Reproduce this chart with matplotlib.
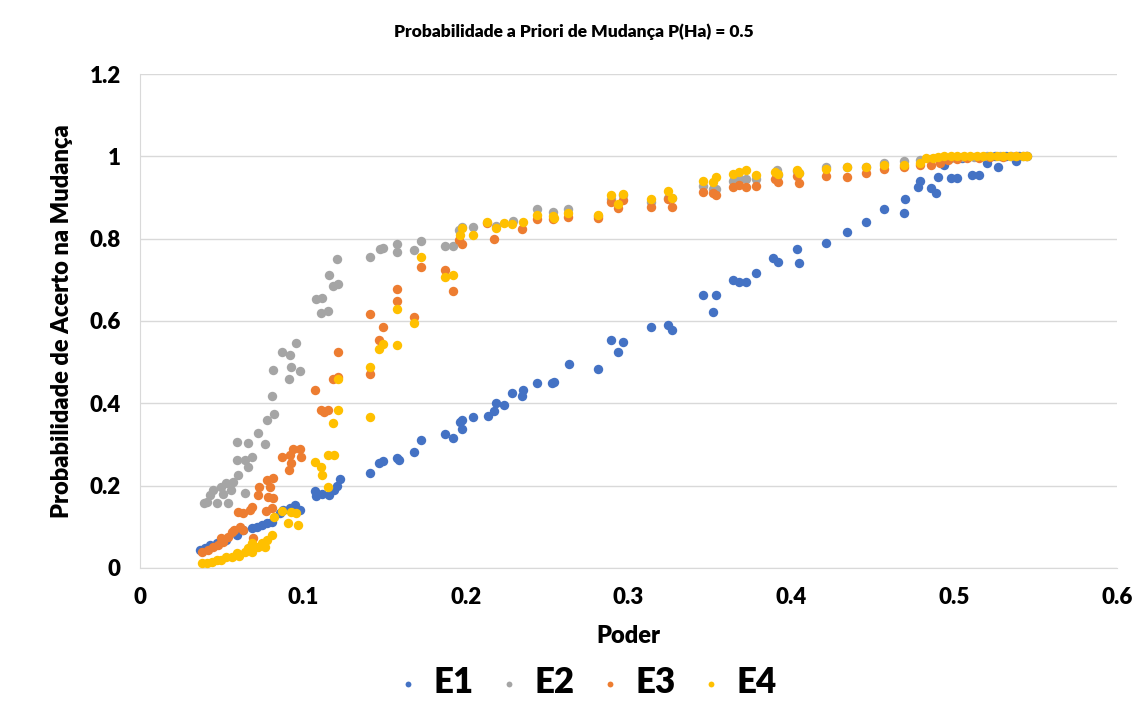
import matplotlib
matplotlib.use("Agg")
import matplotlib.pyplot as plt
from matplotlib.ticker import FuncFormatter

plt.rcParams['font.family'] = ['Lato', 'DejaVu Sans']
plt.rcParams['font.weight'] = 'heavy'
plt.rcParams['axes.labelweight'] = 'heavy'

# E1 (azul)
e1_x = [0.037, 0.040, 0.043, 0.047, 0.053, 0.0595, 0.063, 0.069, 0.072, 0.075, 0.078, 0.081,
        0.086, 0.088, 0.092, 0.095, 0.098, 0.1075, 0.108, 0.112, 0.116, 0.119, 0.121, 0.123,
        0.141, 0.147, 0.149, 0.158, 0.159, 0.168, 0.1725, 0.187, 0.192, 0.1966, 0.198, 0.198,
        0.2045, 0.2137, 0.2175, 0.2186, 0.2235, 0.2286, 0.2346, 0.2352, 0.244, 0.253, 0.254,
        0.2635, 0.281, 0.289, 0.2935, 0.2967, 0.314, 0.324, 0.327, 0.346, 0.352, 0.354, 0.364,
        0.368, 0.372, 0.378, 0.389, 0.392, 0.4035, 0.405, 0.421, 0.434, 0.446, 0.457, 0.469,
        0.470, 0.478, 0.479, 0.486, 0.489, 0.490, 0.494, 0.498, 0.502, 0.511, 0.515, 0.520,
        0.527, 0.538, 0.505, 0.525, 0.532, 0.540, 0.545]
e1_y = [0.044, 0.048, 0.056, 0.060, 0.068, 0.080, 0.092, 0.097, 0.100, 0.104, 0.110, 0.112,
        0.133, 0.140, 0.145, 0.153, 0.140, 0.187, 0.175, 0.180, 0.178, 0.190, 0.200, 0.215,
        0.231, 0.255, 0.260, 0.267, 0.263, 0.282, 0.311, 0.325, 0.315, 0.355, 0.360, 0.338,
        0.366, 0.370, 0.382, 0.400, 0.395, 0.425, 0.418, 0.432, 0.449, 0.449, 0.452,
        0.495, 0.483, 0.554, 0.525, 0.549, 0.585, 0.590, 0.578, 0.663, 0.622, 0.663, 0.700,
        0.695, 0.695, 0.716, 0.753, 0.743, 0.775, 0.740, 0.789, 0.816, 0.840, 0.872, 0.862,
        0.896, 0.925, 0.940, 0.923, 0.911, 0.950, 0.979, 0.947, 0.947, 0.954, 0.954, 0.983,
        0.974, 0.988, 0.995, 1.000, 1.000, 1.000, 1.000]

# E2 (cinza)
e2_x = [0.039, 0.041, 0.043, 0.045, 0.047, 0.050, 0.051, 0.053, 0.054, 0.056, 0.057, 0.060,
        0.0645, 0.066, 0.0595, 0.0645, 0.069, 0.0595, 0.066, 0.077, 0.0725, 0.078, 0.082,
        0.081, 0.0817, 0.087, 0.092, 0.093, 0.0915, 0.096, 0.098, 0.108, 0.112, 0.111, 0.1155,
        0.116, 0.1185, 0.1216, 0.121, 0.141, 0.1474, 0.149, 0.158, 0.158, 0.168, 0.1725,
        0.187, 0.192, 0.196, 0.198, 0.2045, 0.2186, 0.229, 0.244, 0.2535, 0.263, 0.281,
        0.289, 0.2967, 0.314, 0.324, 0.327, 0.346, 0.352, 0.354, 0.364, 0.368, 0.372, 0.378,
        0.391, 0.392, 0.4035, 0.405, 0.421, 0.434, 0.446, 0.457, 0.469, 0.479, 0.486, 0.492,
        0.498, 0.505, 0.512, 0.520, 0.528, 0.535, 0.542]
e2_y = [0.157, 0.160, 0.177, 0.190, 0.157, 0.197, 0.180, 0.206, 0.157, 0.190, 0.210, 0.225,
        0.182, 0.245, 0.262, 0.262, 0.270, 0.306, 0.304, 0.300, 0.328, 0.360, 0.375,
        0.418, 0.480, 0.524, 0.517, 0.488, 0.460, 0.546, 0.479, 0.653, 0.656, 0.619, 0.625,
        0.711, 0.685, 0.690, 0.750, 0.755, 0.775, 0.777, 0.787, 0.768, 0.772, 0.794,
        0.782, 0.782, 0.820, 0.829, 0.828, 0.831, 0.843, 0.872, 0.865, 0.872, 0.855,
        0.896, 0.905, 0.888, 0.900, 0.900, 0.928, 0.920, 0.920, 0.940, 0.945, 0.945, 0.945,
        0.966, 0.955, 0.964, 0.960, 0.975, 0.975, 0.975, 0.985, 0.988, 0.992, 0.994, 0.996,
        0.997, 0.998, 0.999, 1.000, 1.000, 1.000, 1.000]

# E3 (laranja)
e3_x = [0.038, 0.042, 0.045, 0.048, 0.051, 0.050, 0.054, 0.0565, 0.058, 0.0614, 0.063, 0.060,
        0.063, 0.0675, 0.069, 0.0695, 0.0786, 0.080, 0.081, 0.0725, 0.073, 0.078, 0.0774,
        0.0817, 0.0817, 0.087, 0.092, 0.094, 0.098, 0.093, 0.0915, 0.099, 0.1075, 0.111,
        0.113, 0.1155, 0.1185, 0.1216, 0.1216, 0.141, 0.149, 0.147, 0.141, 0.158, 0.158,
        0.168, 0.1725, 0.187, 0.192, 0.196, 0.198, 0.213, 0.2175, 0.2346, 0.244, 0.2535,
        0.263, 0.281, 0.289, 0.2935, 0.2967, 0.314, 0.324, 0.327, 0.346, 0.352, 0.354, 0.364,
        0.368, 0.372, 0.378, 0.390, 0.392, 0.4035, 0.405, 0.421, 0.434, 0.446, 0.457, 0.469,
        0.479, 0.486, 0.491, 0.496, 0.502, 0.508, 0.515, 0.522, 0.530, 0.538, 0.544]
e3_y = [0.039, 0.044, 0.050, 0.056, 0.063, 0.072, 0.075, 0.087, 0.092, 0.100, 0.092, 0.135,
        0.133, 0.140, 0.148, 0.073, 0.172, 0.197, 0.146, 0.177, 0.197, 0.214, 0.138,
        0.218, 0.170, 0.270, 0.275, 0.290, 0.290, 0.255, 0.238, 0.270, 0.432, 0.384,
        0.380, 0.384, 0.460, 0.463, 0.524, 0.617, 0.585, 0.554, 0.471, 0.678, 0.648,
        0.610, 0.731, 0.724, 0.672, 0.797, 0.787, 0.837, 0.800, 0.823, 0.847, 0.847,
        0.853, 0.850, 0.890, 0.874, 0.895, 0.878, 0.896, 0.878, 0.913, 0.910, 0.907, 0.925,
        0.930, 0.925, 0.928, 0.945, 0.937, 0.952, 0.935, 0.952, 0.951, 0.960, 0.970, 0.975,
        0.980, 0.980, 0.985, 0.990, 0.993, 0.995, 0.997, 0.998, 0.999, 1.000, 1.000]

# E4 (amarelo)
e4_x = [0.038, 0.041, 0.044, 0.047, 0.050, 0.053, 0.0565, 0.0595, 0.061, 0.0645, 0.066, 0.069,
        0.069, 0.0725, 0.075, 0.078, 0.081, 0.077, 0.082, 0.087, 0.091, 0.093, 0.097, 0.096,
        0.1075, 0.111, 0.112, 0.1155, 0.1155, 0.119, 0.1185, 0.1216, 0.1216, 0.141, 0.141,
        0.147, 0.149, 0.158, 0.158, 0.168, 0.1725, 0.187, 0.192, 0.1966, 0.198, 0.2045,
        0.213, 0.2186, 0.2235, 0.2286, 0.235, 0.244, 0.2535, 0.254, 0.263, 0.281, 0.289,
        0.2935, 0.2967, 0.314, 0.324, 0.327, 0.346, 0.352, 0.354, 0.364, 0.368, 0.372, 0.378,
        0.390, 0.392, 0.4035, 0.405, 0.421, 0.434, 0.446, 0.457, 0.469, 0.479, 0.483, 0.487,
        0.490, 0.494, 0.498, 0.502, 0.506, 0.510, 0.514, 0.518, 0.522, 0.526, 0.530, 0.534,
        0.538, 0.542, 0.545]
e4_y = [0.012, 0.013, 0.015, 0.020, 0.020, 0.027, 0.027, 0.036, 0.030, 0.039, 0.048, 0.039,
        0.060, 0.052, 0.060, 0.068, 0.080, 0.050, 0.124, 0.138, 0.110, 0.136, 0.104, 0.133,
        0.257, 0.245, 0.226, 0.197, 0.274, 0.274, 0.352, 0.384, 0.459, 0.488, 0.367,
        0.532, 0.544, 0.541, 0.630, 0.595, 0.756, 0.707, 0.711, 0.810, 0.826, 0.810,
        0.840, 0.826, 0.838, 0.836, 0.840, 0.857, 0.855, 0.850, 0.862, 0.858, 0.905,
        0.885, 0.908, 0.897, 0.917, 0.900, 0.940, 0.937, 0.950, 0.958, 0.962, 0.968, 0.955,
        0.962, 0.956, 0.966, 0.960, 0.970, 0.975, 0.975, 0.980, 0.980, 0.985, 0.995, 0.997,
        0.998, 1.000, 1.000, 1.000, 1.000, 1.000, 1.000, 1.000, 1.000, 1.000, 1.000, 1.000,
        1.000, 1.000, 1.000]

series = [("E1", e1_x, e1_y, "#4472C4"),
          ("E2", e2_x, e2_y, "#A5A5A5"),
          ("E3", e3_x, e3_y, "#ED7D31"),
          ("E4", e4_x, e4_y, "#FFC000")]

fig = plt.figure(figsize=(11.48, 7.15), dpi=100)
ax = fig.add_axes([0.122, 0.2056, 0.851, 0.6909])

for name, xs, ys, col in series:
    ax.scatter(xs, ys, s=46, color=col, label=name, linewidths=0, zorder=3)

ax.set_xlim(0, 0.6)
ax.set_ylim(0, 1.2)
ax.set_xticks([0, 0.1, 0.2, 0.3, 0.4, 0.5, 0.6])
ax.set_yticks([0, 0.2, 0.4, 0.6, 0.8, 1.0, 1.2])
fmt = FuncFormatter(lambda v, p: f"{v:g}")
ax.xaxis.set_major_formatter(fmt)
ax.yaxis.set_major_formatter(fmt)
ax.tick_params(length=0, labelsize=16, pad=14)
ax.grid(axis='y', color='#D9D9D9', linewidth=1)
ax.set_axisbelow(True)
for s in ['top', 'right']:
    ax.spines[s].set_visible(False)
for s in ['left', 'bottom']:
    ax.spines[s].set_color('#D9D9D9')

ax.set_xlabel("Poder", fontsize=17, fontweight='heavy', labelpad=12)
ax.set_ylabel("Probabilidade de Acerto na Mudança", fontsize=17, fontweight='heavy', labelpad=12)
fig.text(0.5, 0.955, "Probabilidade a Priori de Mudança P(Ha) = 0.5", ha='center', va='center',
         fontsize=12.5, fontweight='heavy')

leg = fig.legend(loc='center', bbox_to_anchor=(0.51, 0.045), ncol=4, frameon=False,
                 fontsize=25, markerscale=0.62, handlelength=0.8, handletextpad=0.35,
                 columnspacing=0.6)

fig.savefig("out.png", dpi=100)
